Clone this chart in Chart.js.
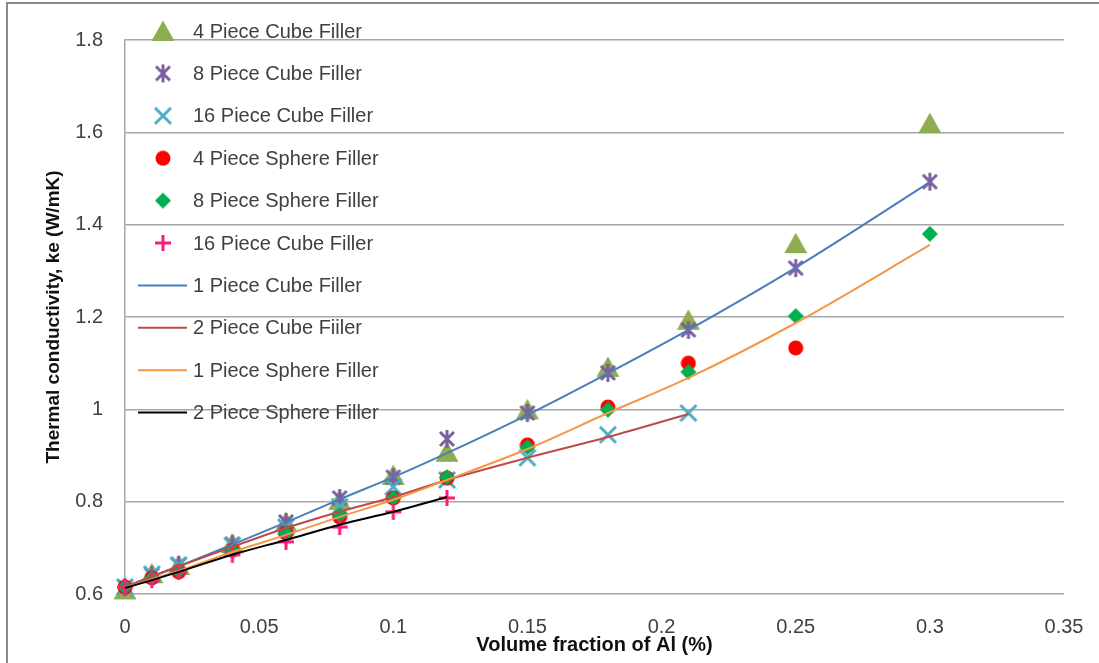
<!DOCTYPE html>
<html>
<head>
<meta charset="utf-8">
<script src="https://cdn.jsdelivr.net/npm/chart.js@4/dist/chart.umd.min.js"></script>
<style>
  html, body { margin: 0; padding: 0; background: #fff; }
  #wrap { width: 1099px; height: 663px; position: relative; }
</style>
</head>
<body>
<div id="wrap"><canvas id="myChart" width="1099" height="663"></canvas></div>
<script>
// volume fraction values (x)
const xVals = [0, 0.01, 0.02, 0.04, 0.06, 0.08, 0.1, 0.12, 0.15, 0.18, 0.21, 0.25, 0.3];

// measured points
const cube4 = [0.61, 0.645, 0.663, 0.71, 0.756, 0.804, 0.858, 0.908, 1.0, 1.092, 1.194, 1.36, 1.62];
const cube8 = [0.615, 0.641, 0.663, 0.708, 0.756, 0.808, 0.853, 0.936, 0.992, 1.079, 1.172, 1.306, 1.493];
const cube16 = [0.615, 0.643, 0.663, 0.705, 0.745, 0.789, 0.832, 0.847, 0.895, 0.945, 0.992];
const sphere4 = [0.615, 0.635, 0.648, 0.695, 0.732, 0.767, 0.808, 0.851, 0.923, 1.005, 1.1, 1.133];
const sphere8 = [0.615, 0.635, 0.65, 0.695, 0.732, 0.771, 0.808, 0.853, 0.918, 0.999, 1.081, 1.202, 1.38];
const cube16b = [0.615, 0.63, 0.648, 0.685, 0.713, 0.745, 0.778, 0.808];

// model curves
const line1Cube = [0.615, 0.638, 0.66, 0.707, 0.755, 0.805, 0.853, 0.905, 0.988, 1.078, 1.172, 1.307, 1.492];
const line2Cube = [0.615, 0.638, 0.66, 0.702, 0.743, 0.778, 0.81, 0.847, 0.895, 0.94, 0.99];
const line1Sphere = [0.613, 0.632, 0.65, 0.691, 0.728, 0.767, 0.804, 0.847, 0.914, 0.992, 1.068, 1.187, 1.356];
const line2Sphere = [0.613, 0.63, 0.648, 0.685, 0.717, 0.75, 0.778, 0.81];

const seriesNames = [
    '4 Piece Cube Filler', '8 Piece Cube Filler', '16 Piece Cube Filler',
    '4 Piece Sphere Filler', '8 Piece Sphere Filler', '16 Piece Cube Filler',
    '1 Piece Cube Filler', '2 Piece Cube Fiiler', '1 Piece Sphere Filler', '2 Piece Sphere Filler'
];

const yTicks = { min: 0.6, max: 1.8, step: 0.2 };
const xTicks = { min: 0, max: 0.35, step: 0.05 };

const FONT = "'Liberation Sans', Arial, sans-serif";

// --- markers drawn once on small canvases ---
function makeMarker(size, draw) {
    const c = document.createElement('canvas');
    c.width = size; c.height = size;
    const g = c.getContext('2d');
    g.lineCap = 'butt';
    draw(g, size);
    return c;
}

const markers = {
    triangle: makeMarker(26, (g) => {
        g.fillStyle = '#8eac50';
        g.beginPath(); g.moveTo(13, 2.5); g.lineTo(24.5, 23); g.lineTo(1.5, 23); g.closePath(); g.fill();
    }),
    asterisk: makeMarker(20, (g) => {
        g.strokeStyle = '#7b5e9f'; g.lineWidth = 3;
        g.beginPath();
        g.moveTo(3, 3); g.lineTo(17, 17);
        g.moveTo(17, 3); g.lineTo(3, 17);
        g.moveTo(10, 1); g.lineTo(10, 19);
        g.stroke();
    }),
    xmark: makeMarker(22, (g) => {
        g.strokeStyle = '#4bacc6'; g.lineWidth = 3;
        g.beginPath();
        g.moveTo(3, 3); g.lineTo(19, 19);
        g.moveTo(19, 3); g.lineTo(3, 19);
        g.stroke();
    }),
    circle: makeMarker(16, (g) => {
        g.fillStyle = '#ff0000';
        g.beginPath(); g.arc(8, 8, 7.5, 0, Math.PI * 2); g.fill();
    }),
    diamond: makeMarker(18, (g) => {
        g.fillStyle = '#00b050';
        g.beginPath(); g.moveTo(9, 1); g.lineTo(17, 9); g.lineTo(9, 17); g.lineTo(1, 9); g.closePath(); g.fill();
    }),
    plus: makeMarker(20, (g) => {
        g.strokeStyle = '#ff1a7a'; g.lineWidth = 3;
        g.beginPath();
        g.moveTo(10, 2); g.lineTo(10, 18);
        g.moveTo(2, 10); g.lineTo(18, 10);
        g.stroke();
    })
};

function toPoints(ys) {
    return ys.map((y, i) => ({ x: xVals[i], y }));
}

function scatterSet(label, ys, marker, order) {
    return {
        label, data: toPoints(ys), showLine: false,
        pointStyle: markers[marker], pointRadius: 8, order, clip: false
    };
}

function lineSet(label, ys, color, order) {
    return {
        label, data: toPoints(ys), showLine: true, borderColor: color, borderWidth: 2,
        pointRadius: 0, cubicInterpolationMode: 'monotone', order, clip: false
    };
}

const datasets = [
    scatterSet(seriesNames[0], cube4, 'triangle', 10),
    scatterSet(seriesNames[1], cube8, 'asterisk', 9),
    scatterSet(seriesNames[2], cube16, 'xmark', 8),
    scatterSet(seriesNames[3], sphere4, 'circle', 7),
    scatterSet(seriesNames[4], sphere8, 'diamond', 6),
    scatterSet(seriesNames[5], cube16b, 'plus', 5),
    lineSet(seriesNames[6], line1Cube, '#4a7ebb', 4),
    lineSet(seriesNames[7], line2Cube, '#be4b48', 3),
    lineSet(seriesNames[8], line1Sphere, '#f79646', 2),
    lineSet(seriesNames[9], line2Sphere, '#000000', 1)
];

// background + frame
const framePlugin = {
    id: 'frame',
    beforeDraw(chart) {
        const ctx = chart.ctx;
        ctx.save();
        ctx.fillStyle = '#ffffff';
        ctx.fillRect(0, 0, chart.width, chart.height);
        ctx.strokeStyle = '#8a8a8a';
        ctx.lineWidth = 2;
        ctx.strokeRect(7, 3, chart.width, chart.height);
        ctx.restore();
    }
};

// legend sits on top of the plot area, no box
const legendPlugin = {
    id: 'insideLegend',
    afterDraw(chart) {
        const ctx = chart.ctx;
        const top = 31, step = 42.4;
        ctx.save();
        ctx.font = '20px ' + FONT;
        ctx.textBaseline = 'middle';
        ctx.textAlign = 'left';
        chart.data.datasets.forEach((ds, i) => {
            const y = top + i * step;
            if (ds.showLine) {
                ctx.strokeStyle = ds.borderColor;
                ctx.lineWidth = 2;
                ctx.beginPath(); ctx.moveTo(138, y); ctx.lineTo(187, y); ctx.stroke();
            } else {
                const m = ds.pointStyle;
                ctx.drawImage(m, 163 - m.width / 2, y - m.height / 2);
            }
            ctx.fillStyle = '#404040';
            ctx.fillText(ds.label, 193, y + 1);
        });
        ctx.restore();
    }
};

const ctx = document.getElementById('myChart').getContext('2d');
new Chart(ctx, {
    type: 'scatter',
    data: { datasets },
    plugins: [framePlugin, legendPlugin],
    options: {
        responsive: false,
        animation: false,
        events: [],
        layout: { padding: { top: 40, right: 35, left: 0, bottom: 0 } },
        plugins: {
            legend: { display: false },
            tooltip: { enabled: false }
        },
        scales: {
            x: {
                type: 'linear',
                min: xTicks.min, max: xTicks.max,
                afterFit(scale) {
                    scale.height = 69;
                    scale.paddingLeft = 0;
                    scale.paddingRight = 0;
                },
                grid: { display: false, drawTicks: false },
                border: { display: false },
                ticks: {
                    stepSize: xTicks.step, padding: 21, color: '#404040',
                    font: { family: FONT, size: 20 },
                    callback: v => String(Math.round(v * 100) / 100)
                },
                title: {
                    display: true, text: 'Volume fraction of Al (%)', color: '#111',
                    font: { family: FONT, size: 20, weight: 'bold' },
                    padding: { top: 0, bottom: 6 }
                }
            },
            y: {
                type: 'linear',
                min: yTicks.min, max: yTicks.max,
                afterFit(scale) { scale.width = 125; },
                grid: { color: '#a6a6a6', lineWidth: 1.5, drawTicks: false },
                border: { display: true, color: '#a6a6a6', width: 1.5 },
                ticks: {
                    stepSize: yTicks.step, padding: 22, color: '#404040',
                    font: { family: FONT, size: 20 },
                    callback: v => String(Math.round(v * 10) / 10)
                },
                title: {
                    display: true, text: 'Thermal conductivity, ke (W/mK)', color: '#111',
                    font: { family: FONT, size: 19, weight: 'bold' },
                    padding: { top: 42, bottom: 0 }
                }
            }
        }
    }
});
</script>
</body>
</html>
